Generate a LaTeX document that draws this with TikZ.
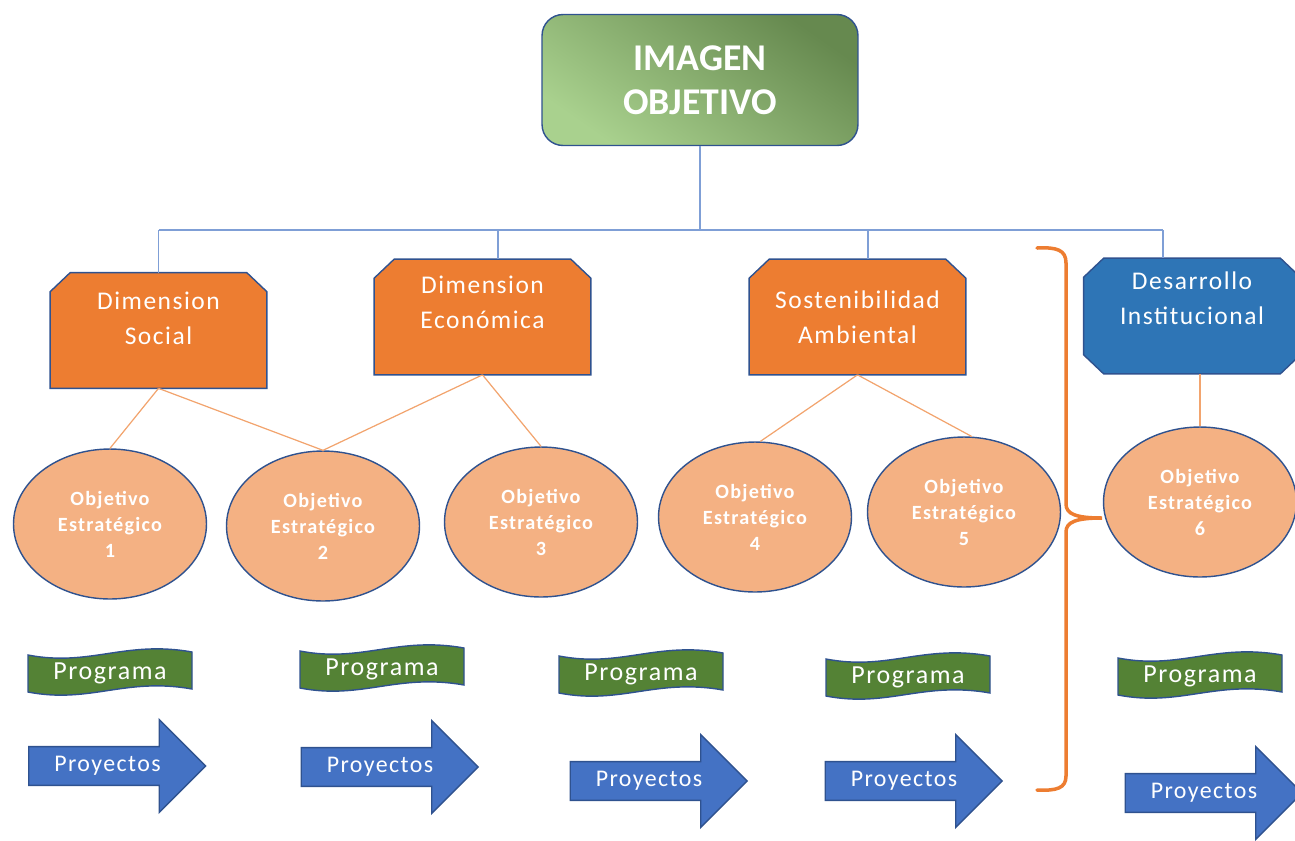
\documentclass[tikz,border=0pt]{standalone}
\usepackage{fontspec}
\setmainfont{Carlito}
\newfontfamily\spaced{Carlito}[LetterSpace=6]
\usepackage{xcolor}
\usepackage{tikz}
\usetikzlibrary{positioning, calc, shapes.geometric, shapes.arrows, backgrounds}
\definecolor{titlelight}{HTML}{A9D18E}
\definecolor{titledark}{HTML}{66894F}
\definecolor{officeblue}{HTML}{2F528F}
\definecolor{treeblue}{HTML}{7F9FD6}
\definecolor{dimorange}{HTML}{ED7D31}
\definecolor{objorange}{HTML}{F4B183}
\definecolor{linkorange}{HTML}{F2A46E}
\definecolor{instblue}{HTML}{2E75B6}
\definecolor{proggreen}{HTML}{548235}
\definecolor{arrowblue}{HTML}{4472C4}

\tikzset{
    titlebox/.style={draw=officeblue, line width=0.8pt, rounded corners=0.42cm,
        top color=titledark, bottom color=titlelight, shading angle=-35,
        minimum width=6.32cm, minimum height=2.62cm, align=center, text=white,
        font=\fontsize{21.5}{25}\selectfont\bfseries},
    dimbox/.style={rectangle, minimum width=4.32cm, minimum height=2.3cm, inner sep=0pt},
    dimshape/.style={draw=officeblue, line width=0.8pt, fill=dimorange},
    dimtext/.style={align=center, text=white, font=\spaced\fontsize{14.5}{19.9}\selectfont},
    objell/.style={ellipse, draw=officeblue, line width=0.8pt, fill=objorange,
        minimum width=3.86cm, minimum height=3cm, align=center, text=white,
        font=\spaced\fontsize{11.5}{14.8}\selectfont\bfseries},
    progtext/.style={text=white, font=\spaced\fontsize{14.8}{17}\selectfont, inner sep=0pt},
    progwave/.style={draw=officeblue, line width=0.8pt, fill=proggreen},
    proyarrow/.style={single arrow, draw=officeblue, line width=0.8pt, fill=arrowblue,
        minimum height=3.54cm, minimum width=1.86cm, single arrow head extend=0.45cm,
        single arrow tip angle=90, text=white, font=\spaced\fontsize{13.6}{16}\selectfont},
    treeline/.style={draw=treeblue, line width=0.6pt},
    linkline/.style={draw=linkorange, line width=0.7pt},
}

\begin{document}
\begin{tikzpicture}[x=0.02cm, y=-0.02cm]
    \useasboundingbox (0,0) rectangle (1295,840);
    \clip (0,0) rectangle (1295,840);

    \node[titlebox] (imagen) at (700,80) {IMAGEN\\OBJETIVO};

    \node[dimbox, label={[dimtext, yshift=0.24cm]center:{Dimension\\Social}}] (dsoc) at (158.5,330.5) {};
    \node[dimbox, label={[dimtext, yshift=0.3cm]center:{Dimension\\Económica}}] (deco) at (482.5,317) {};
    \node[dimbox, label={[dimtext]center:{Sostenibilidad\\Ambiental}}] (dsos) at (857.5,317) {};
    \node[dimbox, label={[dimtext, yshift=0.36cm]center:{Desarrollo\\Institucional}}] (dins) at (1192,316) {};

    \begin{scope}[on background layer]
        \foreach \b in {dsoc, deco, dsos}{
            \filldraw[dimshape] ([xshift=0.4cm]\b.north west) -- ([xshift=-0.4cm]\b.north east)
                -- ([yshift=-0.38cm]\b.north east) -- (\b.south east) -- (\b.south west)
                -- ([yshift=-0.38cm]\b.north west) -- cycle;
        }
        \filldraw[dimshape, fill=instblue] ([xshift=0.4cm]dins.north west) -- ([xshift=-0.4cm]dins.north east)
            -- ([yshift=-0.38cm]dins.north east) -- ([yshift=0.38cm]dins.south east)
            -- ([xshift=-0.4cm]dins.south east) -- ([xshift=0.4cm]dins.south west)
            -- ([yshift=0.38cm]dins.south west) -- ([yshift=-0.38cm]dins.north west) -- cycle;
    \end{scope}

    \node[objell] (obj1) at (110,524) {Objetivo\\Estratégico\\1};
    \node[objell] (obj2) at (323,526) {Objetivo\\Estratégico\\2};
    \node[objell] (obj3) at (541,522) {Objetivo\\Estratégico\\3};
    \node[objell] (obj4) at (755,517) {Objetivo\\Estratégico\\4};
    \node[objell] (obj5) at (964,512) {Objetivo\\Estratégico\\5};
    \node[objell] (obj6) at (1200,502) {Objetivo\\Estratégico\\6};

    \node[progtext] (prog1) at (110,673) {Programa};
    \node[progtext] (prog2) at (382,669) {Programa};
    \node[progtext] (prog3) at (641,674) {Programa};
    \node[progtext] (prog4) at (908,677) {Programa};
    \node[progtext] (prog5) at (1200,676) {Programa};

    \begin{scope}[on background layer]
        \foreach \p in {prog1, prog2, prog3, prog4, prog5}{
            \filldraw[progwave, shift={(\p.center)}]
                (-82,-18) .. controls (-20,-6) and (15,-33) .. (82,-21)
                -- (82,16) .. controls (15,4) and (-20,31) .. (-82,19) -- cycle;
        }
    \end{scope}

    \node[proyarrow] (proy1) at (107.5,766) {Proyectos};
    \node[proyarrow] (proy2) at (380,767) {Proyectos};
    \node[proyarrow] (proy3) at (649,781) {Proyectos};
    \node[proyarrow] (proy4) at (904,781) {Proyectos};
    \node[proyarrow] (proy5) at (1204,793) {Proyectos};

    \coordinate (bus) at (700,230);
    \coordinate (ecotop) at ([xshift=0.31cm]deco.north);
    \coordinate (sostop) at ([xshift=0.21cm]dsos.north);
    \coordinate (instop) at ([xshift=-0.58cm]dins.north);
    \draw[treeline] (imagen.south) -- (bus);
    \draw[treeline] (dsoc.north |- bus) -- (instop |- bus);
    \draw[treeline] (dsoc.north |- bus) -- (dsoc.north);
    \draw[treeline] (ecotop |- bus) -- (ecotop);
    \draw[treeline] (sostop |- bus) -- (sostop);
    \draw[treeline] (instop |- bus) -- (instop);

    \draw[linkline] (dsoc.south) -- (obj1.north);
    \draw[linkline] (dsoc.south) -- (obj2.north);
    \draw[linkline] (deco.south) -- (obj2.north);
    \draw[linkline] (deco.south) -- (obj3.north);
    \draw[linkline] (dsos.south) -- (obj4.86);
    \draw[linkline] (dsos.south) -- (obj5.84);
    \draw[linkline] (obj6.north |- dins.south) -- (obj6.north);

    \draw[dimorange, line width=2pt, line cap=round]
        (1037,248) .. controls (1057,247) and (1066,250) .. (1066,263)
        -- (1066,504) .. controls (1066,514) and (1076,518) .. (1102,518)
        .. controls (1076,518) and (1066,522) .. (1066,532)
        -- (1066,776) .. controls (1066,788) and (1057,791) .. (1037,790);
\end{tikzpicture}
\end{document}
